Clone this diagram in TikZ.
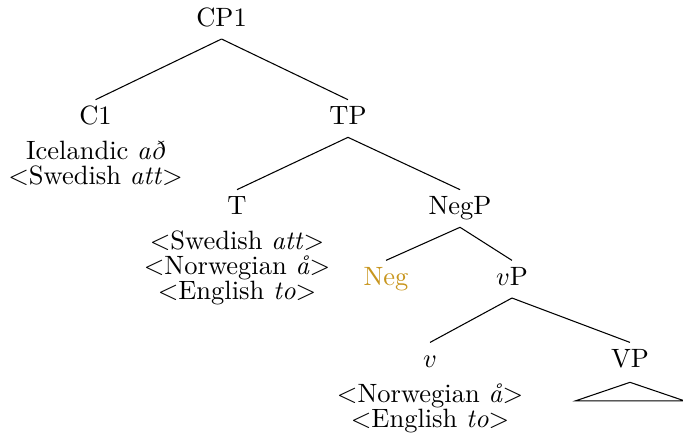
\documentclass[tikz,border=0pt]{standalone}
\usetikzlibrary{positioning}
\definecolor{neggold}{RGB}{200,150,30}

\begin{document}
\begin{tikzpicture}[
    cat/.style={text height=6.9pt, text depth=2.5pt, inner ysep=2.2pt, anchor=base},
    words/.style={align=center, inner sep=1.1pt, font=\fontsize{10}{9.45}\selectfont},
  ]
    \useasboundingbox (0,0) rectangle (9.058,5.796);

    % category labels
    \node[cat] (CP) at (2.938,5.451) {CP1};
    \node[cat] (C) at (1.267,4.147) {C1};
    \node[cat] (TP) at (4.615,4.147) {TP};
    \node[cat] (T) at (3.143,2.954) {T};
    \node[cat] (NegP) at (6.101,2.954) {NegP};
    \node[cat, neggold] (Neg) at (5.119,2.016) {Neg};
    \node[cat] (vP) at (6.790,2.016) {$v$P};
    \node[cat] (v) at (5.703,0.928) {$v$};
    \node[cat] (VP) at (8.355,0.928) {VP};

    % words under the heads
    \node[words, below=0pt of C] (Cwords) {Icelandic \textit{að}\\$<$Swedish \textit{att}$>$};
    \node[words, below=0pt of T] (Twords) {$<$Swedish \textit{att}$>$\\$<$Norwegian \textit{å}$>$\\$<$English \textit{to}$>$};
    \node[words, below=0pt of v] (vwords) {$<$Norwegian \textit{å}$>$\\$<$English \textit{to}$>$};

    % branches
    \draw (CP.south) -- (C.north);
    \draw (CP.south) -- (TP.north);
    \draw (TP.south) -- (T.north);
    \draw (TP.south) -- (NegP.north);
    \draw (NegP.south) -- (Neg.north);
    \draw (NegP.south) -- (vP.north);
    \draw (vP.south) -- (v.north);
    \draw (vP.south) -- (VP.north);

    % roof over VP
    \draw (VP.south) ++(0,-0.03) -- ++(-0.72,-0.245) -- ++(1.44,0) -- cycle;
\end{tikzpicture}
\end{document}
